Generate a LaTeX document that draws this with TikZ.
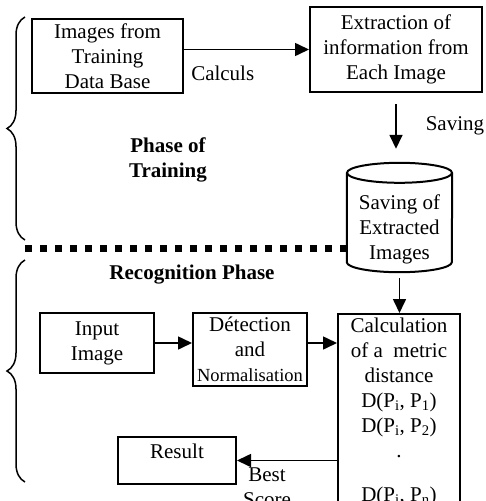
\documentclass[tikz,border=0pt]{standalone}
\usepackage{fontspec}
\setmainfont{Liberation Serif}
\usepackage{tikz}
\usetikzlibrary{arrows.meta,positioning,decorations.pathreplacing}
\tikzstyle{arrow} = [line width=1.6pt,-{Triangle[length=14pt,width=13pt]}]
\tikzstyle{procbox} = [rectangle, draw, line width=2pt, inner sep=0pt, align=center, font=\fontsize{21}{25}\selectfont]
\tikzstyle{lbl} = [inner sep=0pt, align=center, font=\fontsize{21}{25}\selectfont]
\tikzstyle{phase} = [lbl, font=\fontsize{21}{25}\selectfont\bfseries]
\tikzstyle{phasebrace} = [decorate, decoration={brace, amplitude=18pt}, line width=1.5pt]

\begin{document}
\begin{tikzpicture}[x=1pt, y=-1pt]
\useasboundingbox (0,0) rectangle (485,501);
\clip (0,0) rectangle (485,501);
% Training phase
\node (imgs) [procbox, minimum width=151pt, minimum height=74pt] at (107.5,56) {Images from\\Training\\Data Base};
\node (extract) [procbox, minimum width=172pt, minimum height=85pt] at (396,49.5) {Extraction of\\information from\\Each Image};
\node (db) [lbl, minimum width=105pt, minimum height=86pt] at (399.5,229) {Saving of\\Extracted\\Images};
\draw[line width=2pt] ([yshift=13pt]db.north west) -- ([yshift=10pt]db.south west)
  arc[start angle=180, end angle=360, x radius=52.5pt, y radius=10pt] -- ([yshift=13pt]db.north east);
\draw[line width=2pt] ([yshift=13pt]db.north) ellipse [x radius=52.5pt, y radius=10pt];
\node (trainlbl) [phase] at (168,160) {Phase of\\Training};

\draw[arrow] (imgs.east |- extract) -- node[lbl, pos=0.31, below=16pt] {Calculs} (extract);
\draw[arrow, shorten <=11pt, shorten >=37pt] (extract.south) -- node[lbl, pos=0.35, right=29pt] {Saving} (extract.south |- db.north);

% separation and braces
\draw[line width=7pt, dash pattern=on 7pt off 8pt] (25,248) -- (db.west |- 25,248);
\draw[phasebrace] (25,240) -- (25,17);
\draw[phasebrace] (25,482) -- (25,260);

% Recognition phase
\node (recoglbl) [phase] at (192,275) {Recognition Phase};
\node (input) [procbox, minimum width=114pt, minimum height=60pt] at (97,343) {Input\\Image};
\node (detect) [procbox, minimum width=114pt, minimum height=73pt] at (250,349.5) {Détection\\and\\{\fontsize{18.5}{25}\selectfont Normalisation}};
\node (calc) [procbox, anchor=north, minimum width=122pt, inner sep=4pt] at (399,313) {Calculation\\of a~ metric\\distance\\D(P\textsubscript{i}, P\textsubscript{1})\\D(P\textsubscript{i}, P\textsubscript{2})\\.\\[19pt]D(P\textsubscript{i}, P\textsubscript{n})};
\node (result) [procbox, minimum width=118pt, minimum height=47pt, text height=15pt, text depth=20pt] at (177,460.5) {Result};

\draw[arrow] (input) -- (detect.west |- input);
\draw[arrow] (detect.east |- input) -- (calc.west |- input);
\draw[arrow, shorten <=6pt] (db.south) -- (db.south |- calc.north);
\draw[arrow] (calc.west |- result) -- node[lbl, pos=0.7, below=6pt] {Best\\Score} (result);
\end{tikzpicture}
\end{document}
